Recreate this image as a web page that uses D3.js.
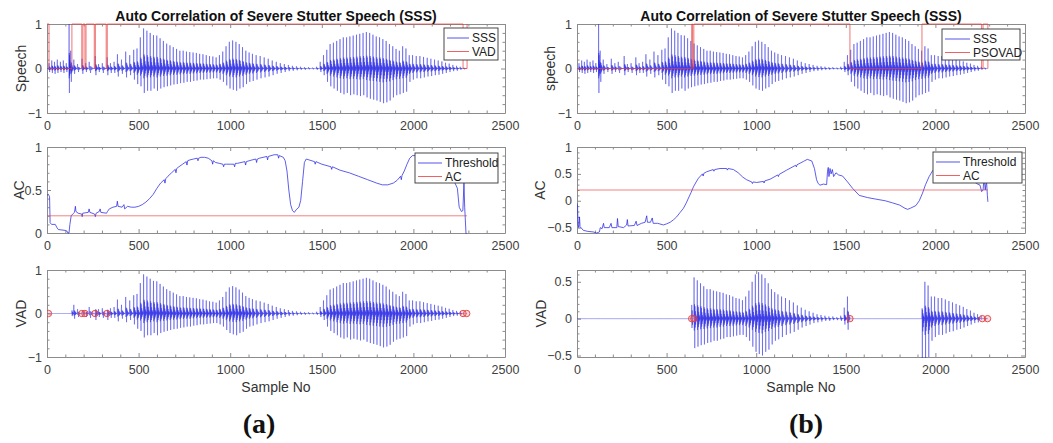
<!DOCTYPE html>
<html>
<head>
<meta charset="utf-8">
<script src="https://cdn.jsdelivr.net/npm/d3@7"></script>
<style>
  body { margin: 0; background: #fff; }
  svg { display: block; }
  text { font-family: "Liberation Sans", Arial, sans-serif; }
</style>
</head>
<body>
<svg width="1053" height="443"></svg>
<script>
// ---- data ----
const xTicks = [0, 500, 1000, 1500, 2000, 2500];
const signalEnd = 2293;

// pitch pulses of the speech signal: [sample, peak, trough]
const speechPulses = [
  [10, 0.12, -0.08], [25, 0.18, -0.1], [40, 0.15, -0.12], [55, 0.2, -0.1], [72, 0.15, -0.08],
  [88, 0.18, -0.1], [104, 0.12, -0.08], [120, 1.0, -0.55], [128, 0.4, -0.3], [145, 0.2, -0.12],
  [165, 0.1, -0.08], [190, 0.22, -0.12], [210, 0.12, -0.08], [228, 0.15, -0.1], [262, 0.28, -0.15],
  [280, 0.1, -0.08], [300, 0.12, -0.1], [327, 0.25, -0.15], [345, 0.12, -0.1], [365, 0.15, -0.1],
  [383, 0.32, -0.18], [405, 0.2, -0.12], [428, 0.38, -0.2], [450, 0.3, -0.15], [472, 0.42, -0.25],
  [490, 0.45, -0.35], [508, 0.7, -0.4], [526, 0.9, -0.55], [544, 0.85, -0.5], [562, 0.8, -0.5],
  [580, 0.75, -0.45], [598, 0.74, -0.5], [616, 0.68, -0.45], [634, 0.62, -0.42], [652, 0.56, -0.4],
  [670, 0.52, -0.38], [688, 0.48, -0.36], [706, 0.44, -0.35], [724, 0.4, -0.33], [742, 0.4, -0.32],
  [760, 0.38, -0.3], [778, 0.37, -0.3], [796, 0.36, -0.28], [814, 0.35, -0.27], [832, 0.33, -0.25],
  [850, 0.32, -0.25], [868, 0.3, -0.24], [886, 0.28, -0.23], [904, 0.27, -0.22], [922, 0.25, -0.22],
  [940, 0.3, -0.25], [958, 0.38, -0.3], [976, 0.5, -0.38], [994, 0.6, -0.45], [1012, 0.63, -0.48],
  [1030, 0.6, -0.5], [1048, 0.55, -0.45], [1066, 0.48, -0.42], [1084, 0.4, -0.35], [1102, 0.36, -0.3],
  [1120, 0.33, -0.28], [1140, 0.3, -0.25], [1162, 0.28, -0.22], [1184, 0.25, -0.2], [1206, 0.22, -0.18],
  [1228, 0.18, -0.15], [1250, 0.15, -0.12], [1272, 0.12, -0.1], [1294, 0.1, -0.08], [1316, 0.08, -0.06],
  [1338, 0.06, -0.05], [1360, 0.05, -0.04], [1382, 0.04, -0.03], [1404, 0.03, -0.03], [1426, 0.03, -0.02],
  [1448, 0.02, -0.02], [1470, 0.04, -0.03], [1490, 0.15, -0.08], [1508, 0.3, -0.15], [1526, 0.42, -0.3],
  [1544, 0.55, -0.4], [1562, 0.58, -0.45], [1580, 0.62, -0.5], [1598, 0.66, -0.55], [1616, 0.7, -0.58],
  [1634, 0.7, -0.55], [1652, 0.72, -0.6], [1670, 0.74, -0.58], [1688, 0.76, -0.6], [1706, 0.78, -0.62],
  [1724, 0.8, -0.6], [1742, 0.82, -0.65], [1760, 0.8, -0.68], [1778, 0.76, -0.7], [1796, 0.72, -0.72],
  [1814, 0.7, -0.75], [1832, 0.66, -0.78], [1850, 0.62, -0.76], [1868, 0.55, -0.72], [1886, 0.5, -0.65],
  [1904, 0.44, -0.6], [1922, 0.4, -0.58], [1940, 0.5, -0.55], [1958, 0.45, -0.52], [1976, 0.3, -0.3],
  [1994, 0.3, -0.25], [2014, 0.28, -0.22], [2034, 0.28, -0.22], [2054, 0.26, -0.2], [2074, 0.24, -0.18],
  [2094, 0.22, -0.17], [2114, 0.2, -0.15], [2134, 0.18, -0.14], [2154, 0.16, -0.12], [2174, 0.13, -0.1],
  [2194, 0.11, -0.08], [2214, 0.08, -0.06], [2234, 0.06, -0.05], [2254, 0.04, -0.03], [2274, 0.02, -0.02]
];
// shape of one pitch period (relative to peak / trough)
const pulseShape = [0, 1, -0.4, 0.35, -1, 0.3, -0.3, 0.18, -0.2, 0.1, -0.1, 0.06, -0.05, 0.03, 0];

// VAD: starting value and samples where it toggles
const vadStartA = 1;
const vadStepsA = [11, 136, 190, 196, 207, 213, 258, 264, 323, 329, 2271, 2293];
const vadStartB = 0;
const vadStepsB = [640, 645, 652, 1523, 1925, 2258, 2266, 2293];
const circlesA = [8, 190, 207, 262, 327, 2271, 2291];
const circlesB = [640, 652, 1523, 2262, 2291];

// autocorrelation curves [sample, value]
const acA = [
  [0, 0.44], [8, 0.45], [14, 0.42], [17, 0.12], [25, 0.1], [45, 0.1], [55, 0.06], [62, 0.04], [100, 0.03],
  [110, 0.02], [114, 0], [120, 0], [125, 0.1], [132, 0.2], [140, 0.22], [150, 0.24], [155, 0.31], [158, 0.25],
  [170, 0.23], [190, 0.22], [192, 0.19], [195, 0.23], [225, 0.24], [230, 0.28], [234, 0.24], [260, 0.22],
  [264, 0.19], [268, 0.23], [285, 0.25], [290, 0.28], [294, 0.24], [325, 0.23], [330, 0.25], [340, 0.28],
  [360, 0.3], [380, 0.31], [384, 0.37], [388, 0.31], [410, 0.3], [420, 0.33], [424, 0.28], [440, 0.31],
  [460, 0.3], [480, 0.3], [500, 0.31], [520, 0.33], [540, 0.36], [560, 0.4], [580, 0.45], [600, 0.52],
  [620, 0.58], [640, 0.62], [644, 0.58], [648, 0.63], [660, 0.66], [680, 0.7], [700, 0.74], [704, 0.7],
  [708, 0.75], [720, 0.77], [740, 0.8], [760, 0.83], [764, 0.79], [768, 0.84], [780, 0.85], [800, 0.86],
  [820, 0.87], [824, 0.84], [828, 0.87], [840, 0.88], [860, 0.88], [880, 0.87], [900, 0.84], [904, 0.8],
  [908, 0.84], [920, 0.82], [940, 0.81], [960, 0.8], [964, 0.77], [968, 0.8], [980, 0.8], [1000, 0.8],
  [1020, 0.8], [1024, 0.77], [1028, 0.81], [1040, 0.81], [1080, 0.83], [1084, 0.79], [1088, 0.83],
  [1120, 0.85], [1140, 0.86], [1144, 0.82], [1148, 0.86], [1160, 0.87], [1200, 0.89], [1204, 0.85],
  [1208, 0.89], [1240, 0.91], [1260, 0.91], [1264, 0.87], [1268, 0.9], [1290, 0.88], [1300, 0.84],
  [1310, 0.72], [1320, 0.5], [1330, 0.33], [1340, 0.26], [1350, 0.24], [1360, 0.27], [1375, 0.3],
  [1385, 0.38], [1395, 0.6], [1405, 0.82], [1415, 0.86], [1430, 0.85], [1460, 0.83], [1464, 0.8],
  [1468, 0.83], [1500, 0.8], [1550, 0.77], [1554, 0.74], [1558, 0.77], [1600, 0.73], [1650, 0.7],
  [1700, 0.66], [1750, 0.62], [1800, 0.58], [1830, 0.56], [1860, 0.56], [1890, 0.58], [1910, 0.61],
  [1930, 0.66], [1934, 0.62], [1938, 0.67], [1950, 0.72], [1965, 0.8], [1980, 0.87], [1995, 0.9],
  [2020, 0.9], [2080, 0.85], [2150, 0.75], [2200, 0.65], [2227, 0.58], [2240, 0.52], [2250, 0.3],
  [2262, 0.25], [2270, 0.26], [2276, 0.58], [2280, 0.3], [2287, 0], [2293, -0.05]
];
const acB = [
  [0, -0.05], [3, -0.1], [6, -0.45], [10, -0.5], [14, -0.3], [17, -0.48], [35, -0.55], [60, -0.57],
  [90, -0.58], [110, -0.6], [125, -0.58], [130, -0.5], [140, -0.52], [148, -0.42], [152, -0.5],
  [180, -0.5], [190, -0.42], [195, -0.5], [222, -0.5], [226, -0.33], [230, -0.48], [260, -0.5],
  [277, -0.45], [281, -0.35], [285, -0.47], [320, -0.46], [330, -0.38], [335, -0.46], [360, -0.42],
  [380, -0.4], [389, -0.28], [393, -0.4], [410, -0.4], [420, -0.32], [425, -0.42], [450, -0.42],
  [482, -0.45], [500, -0.43], [520, -0.4], [540, -0.35], [556, -0.3], [575, -0.22], [594, -0.14],
  [610, -0.04], [622, 0.05], [636, 0.15], [650, 0.26], [665, 0.35], [678, 0.42], [700, 0.5],
  [704, 0.46], [708, 0.51], [724, 0.54], [760, 0.58], [764, 0.55], [768, 0.58], [798, 0.6], [835, 0.6],
  [839, 0.57], [843, 0.6], [873, 0.58], [900, 0.52], [925, 0.44], [947, 0.39], [975, 0.35], [979, 0.32],
  [983, 0.35], [1003, 0.34], [1040, 0.36], [1044, 0.33], [1048, 0.37], [1077, 0.4], [1120, 0.48],
  [1124, 0.45], [1128, 0.49], [1170, 0.57], [1220, 0.66], [1224, 0.63], [1228, 0.67], [1263, 0.73],
  [1285, 0.77], [1310, 0.74], [1325, 0.6], [1337, 0.39], [1346, 0.32], [1356, 0.29], [1375, 0.31],
  [1393, 0.3], [1398, 0.55], [1402, 0.62], [1406, 0.45], [1412, 0.6], [1418, 0.5], [1425, 0.58],
  [1432, 0.45], [1445, 0.52], [1460, 0.48], [1482, 0.46], [1510, 0.35], [1538, 0.23], [1575, 0.1],
  [1620, 0.06], [1668, 0.03], [1720, 0], [1761, -0.04], [1800, -0.08], [1830, -0.14], [1845, -0.16],
  [1860, -0.14], [1891, -0.09], [1910, 0], [1928, 0.14], [1945, 0.3], [1965, 0.45], [1985, 0.56],
  [2003, 0.63], [2040, 0.65], [2100, 0.6], [2180, 0.45], [2230, 0.32], [2249, 0.29], [2258, 0.17],
  [2266, 0.2], [2272, 0.45], [2278, 0.2], [2285, 0.38], [2290, 0.1], [2293, -0.02]
];
const thresholdA = 0.2;
const thresholdB = 0.2;

// ---- layout ----
const svg = d3.select('svg');
const cols = [{ left: 47, right: 505 }, { left: 577, right: 1025 }];
const rows = [{ top: 24, bottom: 113 }, { top: 147, bottom: 233 }, { top: 270, bottom: 357 }];
const axisColor = '#8c8c8c';
const labelColor = '#404040';
const blue = 'rgb(40,40,228)';
const red = 'rgb(232,60,60)';
let clipCount = 0;

function stepRange(d0, d1, step) {
  const out = [];
  for (let k = Math.ceil(d0 / step - 1e-9); k * step <= d1 + 1e-9; k++) out.push(+(k * step).toFixed(4));
  return out;
}

function makePanel(col, row, yDomain, yTicks, yMinor, yLabel, yLabelX, xLabel) {
  const x = d3.scaleLinear().domain([0, 2500]).range([col.left, col.right]);
  const y = d3.scaleLinear().domain(yDomain).range([row.bottom, row.top]);
  const id = 'clip' + (clipCount++);
  svg.append('clipPath').attr('id', id).append('rect')
    .attr('x', col.left).attr('y', row.top - 1)
    .attr('width', col.right - col.left).attr('height', row.bottom - row.top + 2);

  const g = svg.append('g');
  const xMinor = stepRange(0, 2500, 100).filter(v => !xTicks.includes(v));
  const yMinorVals = stepRange(yDomain[0], yDomain[1], yMinor).filter(v => !yTicks.some(t => Math.abs(t - v) < 1e-6));

  const axes = [
    [d3.axisBottom(x), row.bottom, true, xTicks, xMinor, 'x'],
    [d3.axisTop(x), row.top, false, xTicks, xMinor, 'x'],
    [d3.axisLeft(y), col.left, true, yTicks, yMinorVals, 'y'],
    [d3.axisRight(y), col.right, false, yTicks, yMinorVals, 'y']
  ];
  axes.forEach(([ax, pos, labels, major, minor, dir]) => {
    const tr = dir === 'x' ? `translate(0,${pos})` : `translate(${pos},0)`;
    const a = g.append('g').attr('transform', tr)
      .call(ax.tickValues(major).tickSizeInner(-4).tickSizeOuter(0)
        .tickPadding(dir === 'x' ? 8 : 5)
        .tickFormat(labels ? d3.format('') : ''));
    a.select('.domain').attr('stroke', axisColor);
    a.selectAll('.tick line').attr('stroke', axisColor);
    a.selectAll('.tick text').attr('fill', labelColor).style('font-size', '12.5px');
    const m = g.append('g').attr('transform', tr)
      .call(ax.tickValues(minor).tickSizeInner(-2.5).tickSizeOuter(0).tickFormat(''));
    m.select('.domain').remove();
    m.selectAll('.tick line').attr('stroke', axisColor);
  });

  g.append('text')
    .attr('transform', `translate(${yLabelX},${(row.top + row.bottom) / 2}) rotate(-90)`)
    .attr('text-anchor', 'middle').attr('dy', '0.35em')
    .attr('fill', '#333').style('font-size', '14px').text(yLabel);
  if (xLabel) {
    g.append('text').attr('x', (col.left + col.right) / 2).attr('y', row.bottom + 35)
      .attr('text-anchor', 'middle').attr('fill', '#333').style('font-size', '14px').text(xLabel);
  }
  const plot = g.append('g').attr('clip-path', `url(#${id})`);
  return { x, y, g, plot };
}

function legend(g, box, items) {
  const lg = g.append('g');
  lg.append('rect').attr('x', box.x).attr('y', box.y).attr('width', box.w).attr('height', box.h)
    .attr('fill', '#fff').attr('stroke', '#333').attr('stroke-width', 0.9);
  items.forEach((it, i) => {
    const yy = box.y + 10 + i * 13.5;
    lg.append('line').attr('x1', box.x + 3).attr('x2', box.x + 3 + box.line).attr('y1', yy).attr('y2', yy)
      .attr('stroke', it.color).attr('stroke-width', 1).attr('stroke-opacity', 0.8);
    lg.append('text').attr('x', box.x + 6 + box.line).attr('y', yy).attr('dy', '0.35em')
      .attr('fill', '#222').style('font-size', '12px').text(it.label);
  });
}

// speech signal points from pulses and the period shape
function speechPoints() {
  const pts = [[0, 0]];
  speechPulses.forEach((p, i) => {
    const next = i + 1 < speechPulses.length ? speechPulses[i + 1][0] : signalEnd;
    const period = next - p[0];
    pulseShape.forEach((s, k) => {
      const sx = p[0] + period * k / (pulseShape.length - 1);
      pts.push([sx, s >= 0 ? s * p[1] : -s * p[2]]);
    });
  });
  pts.push([signalEnd, 0]);
  return pts;
}

function vadValue(start, steps, sx) {
  let v = start;
  steps.forEach(s => { if (sx >= s) v = 1 - v; });
  return v;
}

function vadPoints(start, steps) {
  const pts = [[0, start]];
  let v = start;
  steps.forEach(s => { pts.push([s, v]); v = 1 - v; pts.push([s, v]); });
  return pts;
}

const speech = speechPoints();

function drawColumn(ci, vadStart, vadSteps, vadName, ac, threshold, acDomain, acTicks, circles,
                    vadDomain, vadTicks, labels, legendBoxes, panelLetter, letterX) {
  const col = cols[ci];
  // top: speech + VAD
  const p1 = makePanel(col, rows[0], [-1, 1], [-1, 0, 1], 0.2, labels[0], labels[3], null);
  const line1 = d3.line().x(d => p1.x(d[0])).y(d => p1.y(d[1]));
  p1.plot.append('path').attr('d', line1(speech)).attr('fill', 'none')
    .attr('stroke', blue).attr('stroke-width', 0.8).attr('stroke-opacity', 0.55);
  p1.plot.append('path').attr('d', line1(vadPoints(vadStart, vadSteps))).attr('fill', 'none')
    .attr('stroke', red).attr('stroke-width', 1).attr('stroke-opacity', 0.7);
  legend(p1.g, legendBoxes[0], [{ color: blue, label: 'SSS' }, { color: red, label: vadName }]);
  svg.append('text').attr('x', (col.left + col.right) / 2).attr('y', 21).attr('text-anchor', 'middle')
    .attr('fill', '#111').style('font-size', '14px').style('font-weight', 'bold')
    .text('Auto Correlation of Severe Stutter Speech (SSS)');

  // middle: autocorrelation
  const p2 = makePanel(col, rows[1], acDomain, acTicks, 0.1, 'AC', labels[4], null);
  const line2 = d3.line().x(d => p2.x(d[0])).y(d => p2.y(d[1]));
  p2.plot.append('path').attr('d', line2(ac)).attr('fill', 'none')
    .attr('stroke', blue).attr('stroke-width', 1).attr('stroke-opacity', 0.75);
  p2.plot.append('path').attr('d', line2([[0, threshold], [signalEnd, threshold]])).attr('fill', 'none')
    .attr('stroke', red).attr('stroke-width', 0.8).attr('stroke-opacity', 0.8);
  legend(p2.g, legendBoxes[1], [{ color: blue, label: 'Threshold' }, { color: red, label: 'AC' }]);

  // bottom: voiced speech
  const p3 = makePanel(col, rows[2], vadDomain, vadTicks, vadDomain[1] > 0.9 ? 0.2 : 0.1, 'VAD', labels[5], 'Sample No');
  const line3 = d3.line().x(d => p3.x(d[0])).y(d => p3.y(d[1]));
  const voiced = speech.map(d => [d[0], vadValue(vadStart, vadSteps, d[0]) ? d[1] : 0]);
  p3.plot.append('path').attr('d', line3(voiced)).attr('fill', 'none')
    .attr('stroke', blue).attr('stroke-width', 0.8).attr('stroke-opacity', 0.55);
  p3.plot.selectAll('circle').data(circles).join('circle')
    .attr('cx', d => p3.x(d)).attr('cy', p3.y(0)).attr('r', 3.2)
    .attr('fill', 'rgba(240,120,120,0.25)').attr('stroke', red).attr('stroke-width', 0.9);

  svg.append('text').attr('x', letterX).attr('y', 433).attr('text-anchor', 'middle')
    .style('font-family', '"Liberation Serif", "Times New Roman", serif')
    .style('font-size', '28px').style('font-weight', 'bold').attr('fill', '#111').text(panelLetter);
}

drawColumn(0, vadStartA, vadStepsA, 'VAD', acA, thresholdA, [0, 1], [0, 0.5, 1], circlesA,
  [-1, 1], [-1, 0, 1], ['Speech', 0, 0, 21, 19, 21],
  [{ x: 444, y: 28, w: 54, h: 32, line: 22 }, { x: 415, y: 153, w: 83, h: 30, line: 24 }], '(a)', 259);

drawColumn(1, vadStartB, vadStepsB, 'PSOVAD', acB, thresholdB, [-0.6, 1], [-0.5, 0, 0.5, 1], circlesB,
  [-0.52, 0.66], [-0.5, 0, 0.5], ['speech', 0, 0, 550, 540, 541],
  [{ x: 942, y: 29, w: 78, h: 31, line: 25 }, { x: 933, y: 152, w: 89, h: 31, line: 24 }], '(b)', 806);
</script>
</body>
</html>
